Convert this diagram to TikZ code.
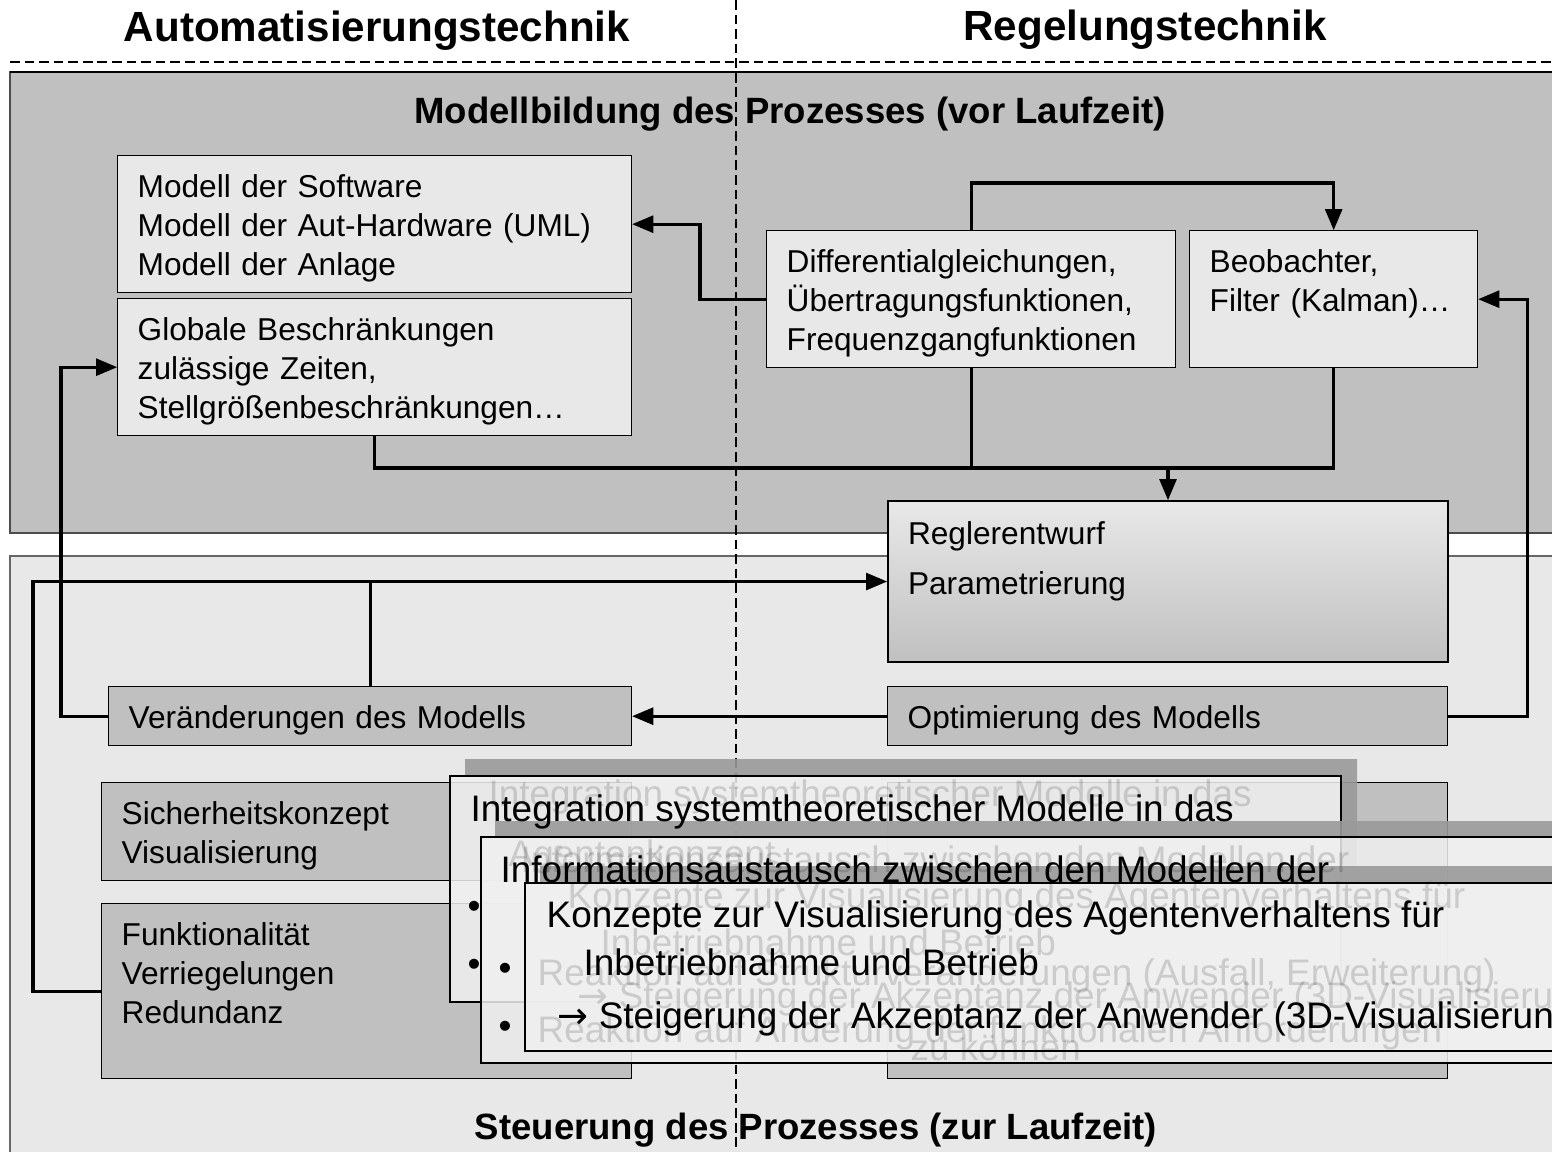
\documentclass[tikz,border=0pt]{standalone}
\usepackage{fontspec}
\setmainfont{Liberation Sans}
\newfontfamily\arrowfont{DejaVu Sans}
\usepackage{tikz}
\usetikzlibrary{positioning, calc}
\usetikzlibrary{arrows}

\definecolor{panelgray}{HTML}{C0C0C0}
\definecolor{boxlight}{HTML}{E8E8E8}
\definecolor{shadowgray}{HTML}{9A9A9A}
\definecolor{popfill}{HTML}{F0F0F0}

\begin{document}
\begin{tikzpicture}[x=0.02cm, y=-0.02cm, >=triangle 45, line width=0.8pt,
        font=\fontsize{18}{22.2}\selectfont,
        box/.style={draw=black, fill=boxlight, anchor=north west, align=left, inner xsep=0.4cm, inner ysep=0pt,
            execute at begin node=\rule{0pt}{18pt}},
        darkbox/.style={box, fill=panelgray},
        popup/.style={draw=black, line width=1pt, fill=popfill, fill opacity=0.85, anchor=north west, inner sep=0pt},
        popshadow/.style={fill=shadowgray, fill opacity=0.9},
        poptext/.style={anchor=base west, inner sep=0pt, font=\fontsize{21}{25}\selectfont},
        ghost/.style={poptext, text opacity=0.15},
        bullet/.style={inner sep=0pt, font=\fontsize{21}{25}\selectfont},
        title/.style={font=\fontsize{24}{28}\selectfont\bfseries},
        paneltitle/.style={font=\fontsize{20.8}{24}\selectfont\bfseries},
        conn/.style={line width=1.8pt}]
        \clip (0,0) rectangle (1552,1152);
        \fill[white] (0,0) rectangle (1552,1152);

        % Panels
        \draw[fill=panelgray, draw=black!70] (10,533) -- (10,72) -- (1600,72) -- (1600,533) -- cycle;
        \draw[line width=1.5pt] (10,72) -- (1600,72);
        \draw[fill=boxlight, draw=black!60] (10,1160) -- (10,556) -- (1600,556) -- (1600,1160) -- cycle;

        % Titles
        \node[title] (auttitle) at (377,31) {Automatisierungstechnik};
        \node[title] (regtitle) at (1145,30) {Regelungstechnik};
        \node[paneltitle] (modtitle) at (790,114) {Modellbildung des Prozesses (vor Laufzeit)};
        \node[paneltitle] (steutitle) at (816,1130) {Steuerung des Prozesses (zur Laufzeit)};
        \draw[dash pattern=on 5.5pt off 2.8pt] (10,62) -- (1552,62);
        \draw[dash pattern=on 5.5pt off 2.8pt] (736,0) -- (736,1152);

        % Nodes
        \node[box, text width=9.48cm, minimum height=2.74cm] (mdl) at (117,155) {Modell der Software\\Modell der Aut-Hardware (UML)\\Modell der Anlage};
        \node[box, text width=9.48cm, minimum height=2.74cm] (glob) at (117,298) {Globale Beschränkungen\\zulässige Zeiten,\\Stellgrößenbeschränkungen…};
        \node[box, text width=7.38cm, minimum height=2.74cm] (dgl) at (766,230) {Differentialgleichungen,\\Übertragungsfunktionen,\\Frequenzgangfunktionen};
        \node[box, text width=4.96cm, minimum height=2.74cm] (beo) at (1189,230) {Beobachter,\\Filter (Kalman)…\\\phantom{g}};
        \node[box, top color=boxlight, bottom color=panelgray, line width=1.2pt, text width=10.4cm, minimum height=3.22cm] (reg) at (887,500) {Reglerentwurf\\[0.22cm]Parametrierung\\[0.22cm]\phantom{g}};
        \node[darkbox, text width=10.4cm, minimum height=1.18cm] (opt) at (887,686) {Optimierung des Modells};
        \node[darkbox, text width=9.66cm, minimum height=1.18cm] (ver) at (108,686) {Veränderungen des Modells};
        \node[darkbox, text width=9.8cm, minimum height=1.96cm] (sich) at (101,782) {Sicherheitskonzept\\Visualisierung};
        \node[darkbox, text width=9.8cm, minimum height=3.5cm] (fkt) at (101,903) {Funktionalität\\Verriegelungen\\Redundanz\\\phantom{g}};
        \node[darkbox, text width=10.4cm, minimum height=1.96cm] (sichr) at (887,782) {};
        \node[darkbox, text width=10.4cm, minimum height=3.5cm] (fktr) at (887,903) {};

        % Edges
        \draw[conn, ->] (dgl.west) -- ++(-66,0) |- (mdl.east);
        \draw[conn, ->] (dgl.north) -- ++(0,-47) -| (beo.north);
        \coordinate (merge) at ($(reg.north)+(0,-32)$);
        \draw[conn] (glob.south) |- (merge);
        \draw[conn] (dgl.south) |- (merge);
        \draw[conn] (beo.south) |- (merge);
        \draw[conn, ->] (merge) -- (reg.north);
        \draw[conn, ->] (opt.east) -- ++(79,0) |- (beo.east);
        \draw[conn, ->] (opt.west) -- (ver.east);
        \draw[conn, ->] (ver.west) -- ++(-47,0) |- (glob.west);
        \draw[conn, ->] (fkt.west) -- ++(-68,0) |- (reg.west);
        \draw[conn] (ver.north) -- (ver.north |- reg.west);

        % Popups
        \fill[popshadow] (465,759) -- (1357,759) -- (1357,985) -- (1340,985) -- (1340,775) -- (465,775) -- cycle;
        \node[popup, minimum width=17.82cm, minimum height=4.52cm] (pop1) at (449,775) {};
        \fill[popshadow] (495,821) -- (1600,821) -- (1600,836) -- (495,836) -- cycle;
        \node[popup, minimum width=24cm, minimum height=4.52cm] (pop2) at (480,836) {};
        \fill[popshadow] (540,866) -- (1600,866) -- (1600,882) -- (540,882) -- cycle;
        \node[popup, minimum width=23cm, minimum height=3.36cm] (pop3) at (524,882) {};

        % Faded text
        \foreach \gx/\gy/\gt [count=\k] in {488/806/{Integration systemtheoretischer Modelle in das},
                508/866/{Agentenkonzept},
                520/872/{Informationsaustausch zwischen den Modellen der},
                567/908/{Konzepte zur Visualisierung des Agentenverhaltens für},
                600/955/{Inbetriebnahme und Betrieb},
                537/985/{Reaktion auf Strukturveränderungen (Ausfall, Erweiterung)},
                577/1008/{{\arrowfont →} Steigerung der Akzeptanz der Anwender (3D-Visualisierung)},
                537/1042/{Reaktion auf Änderung der funktionalen Anforderungen},
                910/1060/{zu können}} {
            \node[ghost] (ghost\k) at (\gx,\gy) {\gt};
        }

        % Popup text
        \node[poptext] (integ) at (470,821) {Integration systemtheoretischer Modelle in das};
        \node[poptext] (info) at (500,882) {Informationsaustausch zwischen den Modellen der};
        \node[poptext] (konz) at (546,927) {Konzepte zur Visualisierung des Agentenverhaltens für};
        \node[poptext] (inbetr) at (583,975) {Inbetriebnahme und Betrieb};
        \node[poptext] (steig) at (557,1028) {{\arrowfont →} Steigerung der Akzeptanz der Anwender (3D-Visualisierung)};
        \foreach \bx/\by [count=\k] in {474/910, 474/968, 505/972, 505/1030} {
            \node[bullet] (bul\k) at (\bx,\by) {•};
        }
    \end{tikzpicture}
\end{document}
